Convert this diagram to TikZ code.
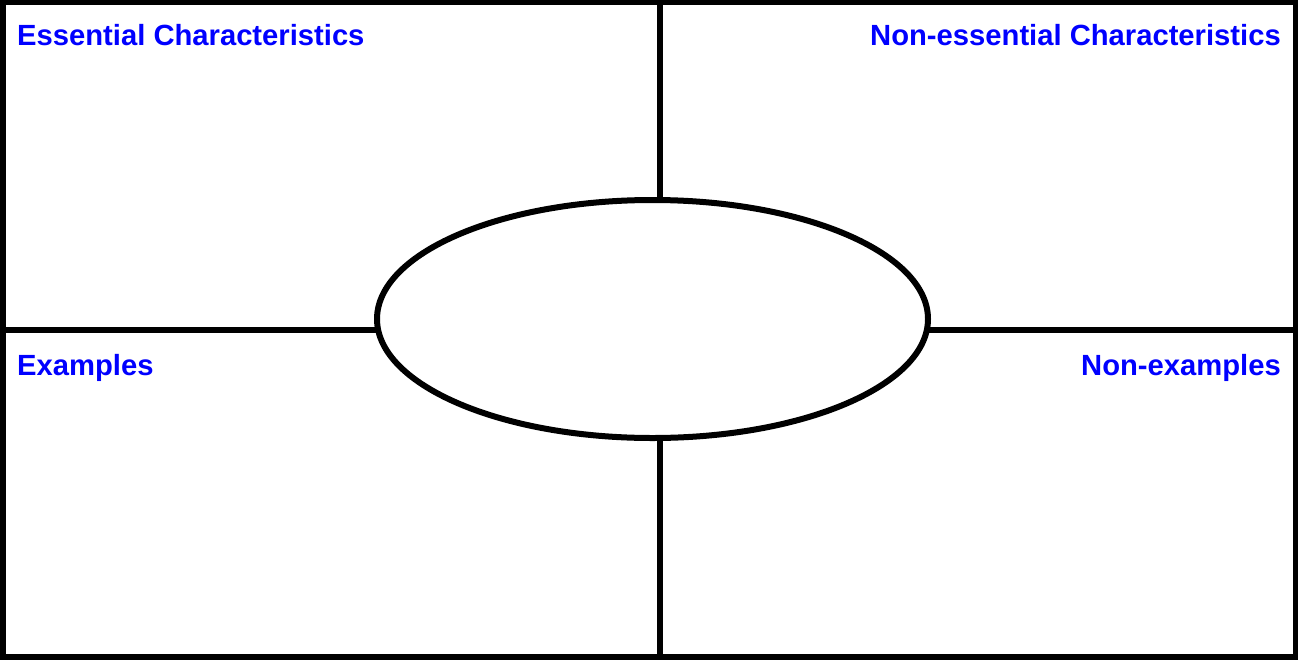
\documentclass[tikz,border=0pt]{standalone}
\usepackage{fontspec}
\setmainfont{Liberation Sans}
\usetikzlibrary{shapes.geometric}
\definecolor{labelblue}{RGB}{0,0,255}
\tikzset{
  frame/.style={line width=6pt, draw=black},
  label/.style={inner sep=0pt, text=labelblue, font=\fontsize{29.2}{34}\selectfont\bfseries},
}
\begin{document}
\begin{tikzpicture}[x=1pt,y=-1pt]
\useasboundingbox (0,0) rectangle (1298,659);
\fill[white] (0,0) rectangle (1298,659);
% outer frame
\draw[frame] (2.5,2) rectangle (1295.5,656.5);
\coordinate (topmid) at (660,2);
\coordinate (botmid) at (660,656.5);
\coordinate (leftmid) at (2.5,330);
\coordinate (rightmid) at (1295.5,330);
\node[frame, fill=white, ellipse, minimum width=551pt, minimum height=238pt, inner sep=0pt, outer sep=0pt] (center) at (652.5,319) {};
\draw[frame] (topmid) -- (center.north -| topmid);
\draw[frame] (botmid) -- (center.south -| botmid);
\draw[frame] (leftmid) -- (leftmid -| center.west);
\draw[frame] (rightmid) -- (rightmid -| center.east);
% labels
\node[label, anchor=base west] (ess) at (17,45) {Essential Characteristics};
\node[label, anchor=base east] (noness) at (1281,45) {Non-essential Characteristics};
\node[label, anchor=base west] (ex) at (17,375) {Examples};
\node[label, anchor=base east] (nonex) at (1281,375) {Non-examples};
\end{tikzpicture}
\end{document}
